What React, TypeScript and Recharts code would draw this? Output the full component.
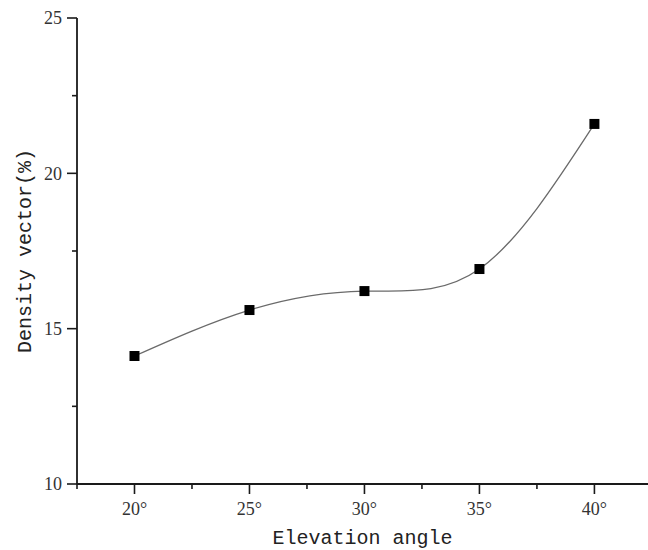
import React from 'react';
import { LineChart, Line, XAxis, YAxis } from 'recharts';

// elevation angle (deg) and measured density vector (%)
const angles = [20, 25, 30, 35, 40];
const density = [14.12, 15.6, 16.21, 16.92, 21.59];

const xTicks = [17.5, 20, 22.5, 25, 27.5, 30, 32.5, 35, 37.5, 40];
const yTicks = [10, 12.5, 15, 17.5, 20, 22.5, 25];

const data = angles.map((angle, i) => ({ angle, density: density[i] }));

const AXIS = '#1a1a1a';
const TICK_FONT = '"Liberation Serif", serif';
const TITLE_FONT = '"Liberation Mono", monospace';

const XTick = ({ x, y, payload }: any) => {
  const major = payload.value % 5 === 0;
  return (
    <g>
      <line x1={x} x2={x} y1={y} y2={y + (major ? 10 : 5)} stroke={AXIS} strokeWidth={1.6} />
      {major && (
        <text x={x} y={y + 31} textAnchor="middle" fontFamily={TICK_FONT} fontSize={18} fill="#333">
          {payload.value}°
        </text>
      )}
    </g>
  );
};

const YTick = ({ x, y, payload }: any) => {
  const major = payload.value % 5 === 0;
  return (
    <g>
      <line x1={x} x2={x - (major ? 10 : 5)} y1={y} y2={y} stroke={AXIS} strokeWidth={1.6} />
      {major && (
        <text x={x - 15} y={y} dy="0.35em" textAnchor="end" fontFamily={TICK_FONT} fontSize={18} fill="#333">
          {payload.value}
        </text>
      )}
    </g>
  );
};

const SquareDot = ({ cx, cy }: any) => (
  <rect x={cx - 5} y={cy - 5} width={10} height={10} fill="#000" />
);

const XTitle = ({ viewBox }: any) => (
  <text
    x={viewBox.x + viewBox.width / 2}
    y={viewBox.y + 60}
    textAnchor="middle"
    fontFamily={TITLE_FONT}
    fontSize={20}
    fill="#222"
  >
    Elevation angle
  </text>
);

const YTitle = ({ viewBox }: any) => {
  const cx = 25;
  const cy = viewBox.y + viewBox.height / 2;
  return (
    <text
      x={cx}
      y={cy}
      transform={`rotate(-90 ${cx} ${cy})`}
      textAnchor="middle"
      dominantBaseline="central"
      fontFamily={TITLE_FONT}
      fontSize={20}
      fill="#222"
    >
      Density vector(%)
    </text>
  );
};

export default function App() {
  return (
    <div style={{ position: 'absolute', left: 0, top: 0, width: 648, height: 550, background: '#fff', overflow: 'hidden' }}>
      <LineChart width={648} height={550} data={data} margin={{ top: 18, right: 0, bottom: 0, left: 0 }}>
        <XAxis
          dataKey="angle"
          type="number"
          domain={[17.5, 42.33]}
          ticks={xTicks}
          interval={0}
          height={66}
          tickSize={0}
          tickMargin={0}
          tickLine={false}
          tick={<XTick />}
          axisLine={{ stroke: AXIS, strokeWidth: 1.8 }}
          label={<XTitle />}
        />
        <YAxis
          type="number"
          domain={[10, 25]}
          ticks={yTicks}
          interval={0}
          width={77}
          tickSize={0}
          tickMargin={0}
          tickLine={false}
          tick={<YTick />}
          axisLine={{ stroke: AXIS, strokeWidth: 1.8 }}
          label={<YTitle />}
        />
        <Line
          type="natural"
          dataKey="density"
          stroke="#6a6a6a"
          strokeWidth={1.3}
          dot={<SquareDot />}
          activeDot={false}
          isAnimationActive={false}
        />
      </LineChart>
    </div>
  );
}
